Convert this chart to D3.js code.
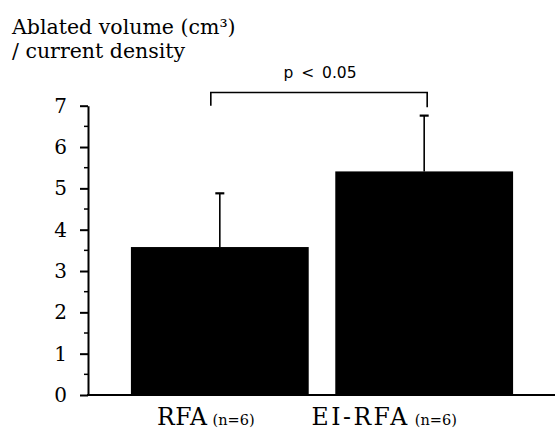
<!DOCTYPE html>
<html>
<head>
<meta charset="utf-8">
<script src="https://cdn.jsdelivr.net/npm/d3@7/dist/d3.min.js"></script>
<style>
  body { margin: 0; background: #fff; }
</style>
</head>
<body>
<div id="chart"></div>
<script>
var categories = ['RFA', 'EI-RFA'];
var groupN = ['(n=6)', '(n=6)'];
var means = [3.58, 5.41];
var sds = [1.30, 1.35];
var yTicks = [0, 1, 2, 3, 4, 5, 6, 7];
var minorTicks = [0.5, 1.5, 2.5, 3.5, 4.5, 5.5, 6.5];
var titleLines = ['Ablated volume (cm³)', '/ current density'];
var pLabel = 'p < 0.05';

var serif = '"DejaVu Serif", "Liberation Serif", serif';
var sans = '"DejaVu Sans", "Liberation Sans", sans-serif';

var width = 555, height = 441;
var svg = d3.select('#chart').append('svg')
    .attr('width', width)
    .attr('height', height);

var axisX = 88;
var x = d3.scaleBand()
    .domain(categories)
    .range([axisX, 556])
    .paddingInner(0.13)
    .paddingOuter(0.21);

var y = d3.scaleLinear()
    .domain([0, 7])
    .range([395, 105.7]);

// title
svg.append('text')
    .attr('font-family', serif)
    .attr('font-size', 20.5)
    .selectAll('tspan')
    .data(titleLines)
    .enter().append('tspan')
    .attr('x', 12)
    .attr('y', function(d, i) { return 34 + i * 24; })
    .text(function(d) { return d; });

// bars
svg.selectAll('.bar')
    .data(categories)
    .enter().append('rect')
    .attr('class', 'bar')
    .attr('x', function(d) { return x(d); })
    .attr('width', x.bandwidth())
    .attr('y', function(d, i) { return y(means[i]); })
    .attr('height', function(d, i) { return y(0) - y(means[i]); })
    .attr('fill', '#000');

// error bars (upper only)
var err = svg.append('g').attr('stroke', '#000').attr('stroke-width', 1.6);
categories.forEach(function(c, i) {
  var cx = x(c) + x.bandwidth() / 2;
  err.append('line')
      .attr('x1', cx).attr('x2', cx)
      .attr('y1', y(means[i])).attr('y2', y(means[i] + sds[i]));
  err.append('line')
      .attr('x1', cx - 4.5).attr('x2', cx + 4.5)
      .attr('y1', y(means[i] + sds[i])).attr('y2', y(means[i] + sds[i]))
      .attr('stroke-width', 2.2);
});

// y axis
var yAxis = svg.append('g')
    .attr('transform', 'translate(' + axisX + ',0)')
    .call(d3.axisLeft(y)
        .tickValues(yTicks)
        .tickSize(8)
        .tickSizeOuter(0)
        .tickPadding(13)
        .tickFormat(d3.format('d')));
yAxis.attr('font-family', serif).attr('font-size', 20);
yAxis.select('.domain').attr('stroke-width', 2);
yAxis.selectAll('.tick line').attr('stroke-width', 2);
yAxis.selectAll('.tick text').attr('fill', '#000');

svg.append('g')
    .attr('transform', 'translate(' + axisX + ',0)')
    .selectAll('line')
    .data(minorTicks)
    .enter().append('line')
    .attr('x1', -4).attr('x2', 0)
    .attr('y1', function(d) { return y(d); })
    .attr('y2', function(d) { return y(d); })
    .attr('stroke', '#000')
    .attr('stroke-width', 1.5);

// baseline
svg.append('line')
    .attr('x1', axisX - 1).attr('x2', width)
    .attr('y1', y(0)).attr('y2', y(0))
    .attr('stroke', '#000')
    .attr('stroke-width', 2);

// category labels
var labelShift = [-14, -40];
var labelSpacing = [0.5, 2.5];
var catText = svg.selectAll('.cat')
    .data(categories)
    .enter().append('text')
    .attr('class', 'cat')
    .attr('font-family', serif)
    .attr('text-anchor', 'middle')
    .attr('x', function(d, i) { return x(d) + x.bandwidth() / 2 + labelShift[i]; })
    .attr('y', 425);
catText.append('tspan')
    .attr('font-size', 23.5)
    .attr('letter-spacing', function(d, i) { return labelSpacing[i]; })
    .text(function(d) { return d; });
catText.append('tspan')
    .attr('font-size', 14.5)
    .attr('dx', 5)
    .text(function(d, i) { return groupN[i]; });

// significance bracket
var bx1 = x(categories[0]) + x.bandwidth() / 2 - 9;
var bx2 = x(categories[1]) + x.bandwidth() / 2 + 3;
var bTop = y(7.32);
svg.append('path')
    .attr('d', 'M' + bx1 + ',' + y(7.0) + 'V' + bTop + 'H' + bx2 + 'V' + y(6.96))
    .attr('fill', 'none')
    .attr('stroke', '#000')
    .attr('stroke-width', 1.6);
svg.append('text')
    .attr('x', (bx1 + bx2) / 2 + 1)
    .attr('y', bTop - 14)
    .attr('text-anchor', 'middle')
    .attr('font-family', sans)
    .attr('font-size', 15.5)
    .attr('word-spacing', 3)
    .text(pLabel);
</script>
</body>
</html>
